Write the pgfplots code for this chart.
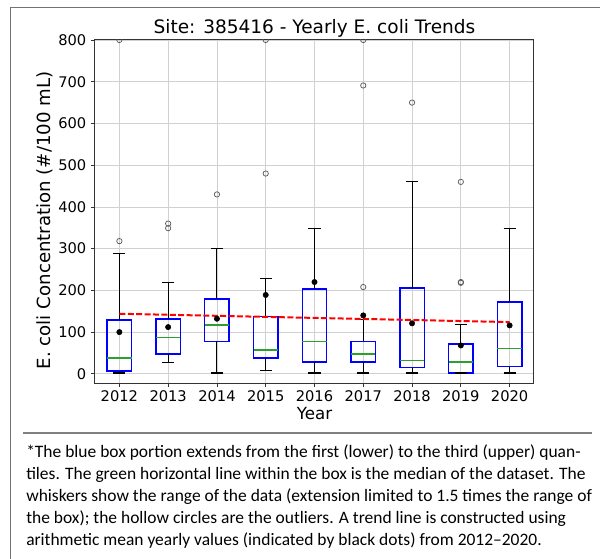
\documentclass[border=0pt]{standalone}
\usepackage{fontspec}
\setmainfont{DejaVu Sans}
\newfontfamily\carlito{Carlito}
\usepackage{pgfplots}
\pgfplotsset{compat=1.18}
\definecolor{mplgreen}{HTML}{2CA02C}
\begin{document}
\begin{tikzpicture}
\useasboundingbox (-71.25pt,-131.25pt) rectangle (378.75pt,287.25pt);
\begin{axis}[
  at={(0pt,0pt)}, anchor=south west,
  scale only axis, width=329.25pt, height=257.25pt,
  xmin=0.5, xmax=9.5, ymin=-22, ymax=800,
  xtick={1,...,9}, xticklabels={2012,2013,2014,2015,2016,2017,2018,2019,2020},
  ytick={0,100,...,800},
  /pgf/number format/assume math mode=true,
  tick label style={font=\fontsize{11}{13}\selectfont, text=black},
  xticklabel style={yshift=1pt},
  tick align=outside, major tick length=3pt,
  tick style={black!80, line width=0.6pt},
  xtick pos=bottom, ytick pos=left,
  grid=major, major grid style={black!18, line width=0.6pt},
  axis line style={black!80, line width=0.75pt},
  unbounded coords=jump,
  clip marker paths=true,
]
% boxes (first to third quartile)
\addplot[blue, line width=1.1pt, line cap=rect, mark=none] coordinates {
 (0.75,7) (1.25,7) (1.25,129) (0.75,129) (0.75,7) (nan,nan)
 (1.75,47) (2.25,47) (2.25,131) (1.75,131) (1.75,47) (nan,nan)
 (2.75,78) (3.25,78) (3.25,179) (2.75,179) (2.75,78) (nan,nan)
 (3.75,38) (4.25,38) (4.25,138) (3.75,138) (3.75,38) (nan,nan)
 (4.75,28) (5.25,28) (5.25,203) (4.75,203) (4.75,28) (nan,nan)
 (5.75,28) (6.25,28) (6.25,78) (5.75,78) (5.75,28) (nan,nan)
 (6.75,15) (7.25,15) (7.25,206) (6.75,206) (6.75,15) (nan,nan)
 (7.75,2) (8.25,2) (8.25,71) (7.75,71) (7.75,2) (nan,nan)
 (8.75,17) (9.25,17) (9.25,172) (8.75,172) (8.75,17)};
% whiskers and caps
\addplot[black, line width=0.8pt, mark=none] coordinates {
 (1,129) (1,288) (nan,nan) (0.875,288) (1.125,288) (nan,nan) (1,7) (1,2) (nan,nan) (0.875,2) (1.125,2) (nan,nan)
 (2,131) (2,218) (nan,nan) (1.875,218) (2.125,218) (nan,nan) (2,47) (2,28) (nan,nan) (1.875,28) (2.125,28) (nan,nan)
 (3,179) (3,300) (nan,nan) (2.875,300) (3.125,300) (nan,nan) (3,78) (3,2) (nan,nan) (2.875,2) (3.125,2) (nan,nan)
 (4,138) (4,229) (nan,nan) (3.875,229) (4.125,229) (nan,nan) (4,38) (4,7) (nan,nan) (3.875,7) (4.125,7) (nan,nan)
 (5,203) (5,349) (nan,nan) (4.875,349) (5.125,349) (nan,nan) (5,28) (5,2) (nan,nan) (4.875,2) (5.125,2) (nan,nan)
 (6,78) (6,130) (nan,nan) (5.875,130) (6.125,130) (nan,nan) (6,28) (6,2) (nan,nan) (5.875,2) (6.125,2) (nan,nan)
 (7,206) (7,461) (nan,nan) (6.875,461) (7.125,461) (nan,nan) (7,15) (7,2) (nan,nan) (6.875,2) (7.125,2) (nan,nan)
 (8,71) (8,118) (nan,nan) (7.875,118) (8.125,118) (nan,nan) (7.875,2) (8.125,2) (nan,nan)
 (9,172) (9,349) (nan,nan) (8.875,349) (9.125,349) (nan,nan) (9,17) (9,2) (nan,nan) (8.875,2) (9.125,2)};
% medians
\addplot[mplgreen, line width=1.1pt, mark=none] coordinates {
 (0.75,38) (1.25,38) (nan,nan) (1.75,87) (2.25,87) (nan,nan) (2.75,117) (3.25,117) (nan,nan)
 (3.75,57) (4.25,57) (nan,nan) (4.75,78) (5.25,78) (nan,nan) (5.75,47) (6.25,47) (nan,nan)
 (6.75,32) (7.25,32) (nan,nan) (7.75,28) (8.25,28) (nan,nan) (8.75,61) (9.25,61)};
% outliers
\addplot[only marks, mark=o, mark size=2pt, mark options={draw=black!65, line width=0.55pt}] coordinates {
 (1,318) (1,800) (2,349) (2,360) (3,430) (4,480) (4,800)
 (6,208) (6,691) (6,800) (7,650) (8,218) (8,220) (8,460)};
% trend line
\addplot[red, line width=1.5pt, dash pattern=on 4.5pt off 1.8pt, mark=none] coordinates {(1,144) (9,124)};
% yearly means
\addplot[only marks, mark=*, mark size=2pt, black] coordinates {
  (1,100) (2,112) (3,132) (4,189) (5,220)
  (6,140) (7,121) (8,68) (9,116)};
\end{axis}
% title and labels
\node[anchor=base, font=\fontsize{13.9}{16}\selectfont] at (164.6pt,262.5pt) {Site: 385416 - Yearly E. coli Trends};
\node[anchor=base, font=\fontsize{12.5}{15}\selectfont] at (164.6pt,-27pt) {Year};
\node[anchor=base, rotate=90, font=\fontsize{13.6}{16}\selectfont] at (-33.5pt,122pt) {E. coli Concentration (\#/100 mL)};
% frame and separator
\draw[black!55, line width=0.75pt] (-63pt,-140pt) -- (-63pt,282pt) -- (380pt,282pt);
\draw[black!50, line width=1.1pt] (-54pt,-37.5pt) -- (372.75pt,-37.5pt);
\node[anchor=base west, align=left, inner sep=0pt, font=\carlito\fontsize{13.1}{16.4}\selectfont] at (-51.75pt,-121.5pt)
{*The blue box portion extends from the first (lower) to the third (upper) quan-\\
tiles. The green horizontal line within the box is the median of the dataset. The\\
whiskers show the range of the data (extension limited to 1.5 times the range of\\
the box); the hollow circles are the outliers. A trend line is constructed using\\
arithmetic mean yearly values (indicated by black dots) from 2012–2020.};
\end{tikzpicture}
\end{document}
